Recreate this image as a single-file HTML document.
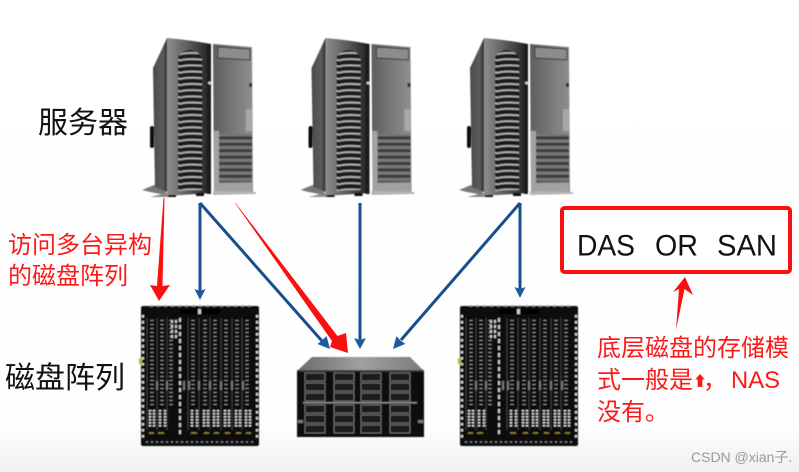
<!DOCTYPE html>
<html><head><meta charset="utf-8">
<style>
html,body{margin:0;padding:0;background:#fff}
svg{display:block}
text{font-family:"Liberation Sans","Noto Sans CJK SC",sans-serif}
</style></head>
<body>
<svg width="799" height="472" viewBox="0 0 799 472" xmlns="http://www.w3.org/2000/svg">
<defs>
<linearGradient id="bg" x1="0" y1="0" x2="0" y2="1"><stop offset="0" stop-color="#fff"/><stop offset=".9" stop-color="#fefefe"/><stop offset="1" stop-color="#f0f0f0"/></linearGradient>
<linearGradient id="side" x1="0" y1="0" x2="1" y2="0"><stop offset="0" stop-color="#4a4a4a"/><stop offset=".7" stop-color="#5c5c5c"/><stop offset="1" stop-color="#2e2e2e"/></linearGradient>
<linearGradient id="front" x1="0" y1="0" x2="1" y2="0"><stop offset="0" stop-color="#8e8e8e"/><stop offset=".5" stop-color="#5a5a5a"/><stop offset="1" stop-color="#1e1e1e"/></linearGradient>
<linearGradient id="door" x1="0" y1="0" x2="1" y2="0"><stop offset="0" stop-color="#5e5e5e"/><stop offset=".6" stop-color="#7d7d7d"/><stop offset="1" stop-color="#8f8f8f"/></linearGradient>
<linearGradient id="top" x1="0" y1="0" x2="1" y2="0"><stop offset="0" stop-color="#6a6a6a"/><stop offset=".5" stop-color="#a0a0a0"/><stop offset="1" stop-color="#7a7a7a"/></linearGradient>
<pattern id="vent" patternUnits="userSpaceOnUse" width="26" height="6.2" y="1">
<rect width="26" height="6.2" fill="#1c1c1c"/>
<path d="M0 3 Q13 1.4 26 3.6" stroke="#b5b5b5" stroke-width="1.800" fill="none"/>
</pattern>
<pattern id="grill" patternUnits="userSpaceOnUse" width="33" height="6.4" y="2">
<rect width="33" height="6.4" fill="#777"/><rect width="33" height="3" fill="#3a3a3a"/>
</pattern>
<filter id="b" x="-5%" y="-5%" width="110%" height="110%"><feGaussianBlur stdDeviation=".6"/></filter>

<g id="server" filter="url(#b)">
<path d="M142 190 L154 185 L165 187 L166 195 L150 192Z" fill="#777"/>
<path d="M153 68 L167 38 L167 192 L155 187Z" fill="url(#side)"/>
<rect x="150" y="126" width="4" height="22" rx="2" fill="#111"/>
<path d="M150 197 L170 192 L176 197Z" fill="#888"/>
<path d="M167 38 Q190 40 211 44 L211 193 L167 196Z" fill="url(#front)"/>
<path d="M178 58 Q180 51 190 50 Q199 51 202 58 L202 190 L178 191Z" fill="url(#vent)"/>
<rect x="207" y="44" width="4" height="150" fill="#1a1a1a"/>
<circle cx="209.500" cy="83" r="1.500" fill="#ccc"/>
<path d="M213 44 L252 47 L253 192 L214 193Z" fill="url(#door)"/>
<path d="M218 47 L250 49 L250 60 L218 58Z" fill="#8c8c8c" stroke="#333" stroke-width="1"/>
<rect x="246" y="109" width="6" height="22" fill="#a8a8a8"/>
<rect x="249" y="83" width="3" height="4" fill="#333"/>
<rect x="219" y="134" width="33" height="48" fill="url(#grill)"/>
<path d="M214 131 H219 V183 H252 V192 H214Z" fill="#a2a2a2"/>
<path d="M213 191 L256 192 L256 194 L213 195Z" fill="#b5b5b5"/>
<rect x="168" y="195" width="8" height="2" fill="#111"/><rect x="196" y="193" width="8" height="3" fill="#111"/>
</g>

<g id="blade" filter="url(#b)">
<rect x="141" y="306" width="118" height="140" rx="2" fill="#0c0c0c"/>
<path d="M143 315 V438 M257 315 V438" stroke="#d5d5d5" stroke-width="2" stroke-dasharray="2.500 3.500"/>
<path d="M150 306 H254" stroke="#999" stroke-width="1.500" stroke-dasharray="3 4"/>
<path d="M146 442 H254" stroke="#888" stroke-width="1.500" stroke-dasharray="2 3"/>
<rect x="180" y="309" width="40" height="5" fill="#000"/>
<rect x="198" y="309" width="3" height="5" fill="#ccc"/>
<g stroke="#8c8c8c" stroke-width="3.500" stroke-dasharray="1 3" fill="none">
<path d="M152 320 V405 M162 320 V405 M171 320 V405 M193 320 V405 M205 320 V405 M215 320 V405 M226 320 V405 M237 320 V405 M247 320 V405"/>
</g>
<g stroke="#3a3a3a" stroke-width="1.200" fill="none">
<path d="M147 318 V430 M157 318 V430 M167 318 V430 M188 318 V430 M199 318 V430 M210 318 V430 M221 318 V430 M232 318 V430 M242 318 V430"/>
</g>
<path d="M180 318 V436" stroke="#c8c8c8" stroke-width="2" stroke-dasharray="4 3"/>
<path d="M172 320 V340 M176 320 V340" stroke="#ccc" stroke-width="2" stroke-dasharray="3 2"/>
<g stroke="#77776a" stroke-width="2" fill="none">
<path d="M157 381 V390 M167 381 V390 M184 381 V390 M189 381 V390 M199 381 V390 M210 381 V390 M221 381 V390 M232 381 V390 M243 381 V390"/>
</g>
<g stroke="#ddd" stroke-width="2.500" stroke-dasharray="1.500 1.500" fill="none">
<path d="M150 410 V428 M154 410 V428 M160 410 V428 M165 410 V428 M192 410 V428 M197 410 V428 M204 410 V428 M208 410 V428 M214 410 V428 M218 410 V428 M225 410 V428 M229 410 V428 M236 410 V428 M240 410 V428 M246 410 V428 M250 410 V428"/>
</g>
<g stroke="#99892e" stroke-width="1.500" fill="none">
<path d="M149 433 H154 M158 433 H164 M191 433 H197 M204 433 H209 M214 433 H219 M225 433 H230 M236 433 H241 M246 433 H251"/>
</g>
<rect x="139" y="358" width="3" height="6" fill="#b7b73a"/>
</g>
</defs>

<rect width="799" height="472" fill="url(#bg)"/>

<use href="#server"/>
<use href="#server" x="158.500"/>
<use href="#server" x="317"/>
<use href="#blade"/>
<use href="#blade" x="319"/>

<!-- storage -->
<g filter="url(#b)">
<path d="M297 371 L312 357 L410 357 L424 371Z" fill="url(#top)"/>
<rect x="297" y="370" width="127" height="67" fill="#0a0a0a"/>
<rect x="297" y="370" width="127" height="1.500" fill="#444"/>
<g fill="#1e1e1e" stroke="#6e6e6e" stroke-width="1">
<rect x="305" y="373" width="20" height="8"/><rect x="334" y="373" width="20" height="8"/><rect x="361" y="373" width="20" height="8"/><rect x="390" y="373" width="20" height="8"/>
<rect x="305" y="383" width="20" height="8"/><rect x="334" y="383" width="20" height="8"/><rect x="361" y="383" width="20" height="8"/><rect x="390" y="383" width="20" height="8"/>
<rect x="305" y="393" width="20" height="8"/><rect x="334" y="393" width="20" height="8"/><rect x="361" y="393" width="20" height="8"/><rect x="390" y="393" width="20" height="8"/>
<rect x="305" y="405" width="20" height="8"/><rect x="334" y="405" width="20" height="8"/><rect x="361" y="405" width="20" height="8"/><rect x="390" y="405" width="20" height="8"/>
<rect x="305" y="415" width="20" height="8"/><rect x="334" y="415" width="20" height="8"/><rect x="361" y="415" width="20" height="8"/><rect x="390" y="415" width="20" height="8"/>
<rect x="305" y="425" width="20" height="8"/><rect x="334" y="425" width="20" height="8"/><rect x="361" y="425" width="20" height="8"/><rect x="390" y="425" width="20" height="8"/>
</g>
<rect x="303" y="402" width="114" height="1.500" fill="#888"/>
<rect x="298" y="420" width="5" height="3" fill="#777"/><rect x="418" y="420" width="5" height="3" fill="#777"/>
</g>

<!-- blue connectors -->
<g stroke="#174f8c" stroke-width="3" fill="none">
<path d="M200 203 V292"/>
<path d="M200 203 L322 341"/>
<path d="M360 203 V341"/>
<path d="M520 203 L401 340"/>
<path d="M520 203 V290"/>
</g>
<g fill="#1a5c9e">
<path d="M194.500 289 L200 291 L205.500 289 L200 300Z"/>
<path d="M330 349 L317.500 344 L322 340.500 L326.500 336Z"/>
<path d="M354 338 L360 340 L366 338 L360 349Z"/>
<path d="M393 349 L396.400 336.100 L400.500 340.500 L405.400 343.900Z"/>
<path d="M514.500 287 L520 289 L525.500 287 L520 298Z"/>
</g>

<!-- red arrows -->
<g fill="#fb1010">
<path d="M163.500 198 L164.500 198 L162.500 286 L170 285 L159 301 L150 285 L157 286Z"/>
<path d="M235 203 L235.500 203 L337.500 336 L346 333 L348 353 L330 347 L332 341Z"/>
<path d="M685 277 L693 295 L684.500 289 L676 330 L679 289 L673 292Z"/>
</g>

<rect x="562" y="208" width="228" height="64" rx="2.500" fill="#fff" stroke="#f81010" stroke-width="4"/>

<g fill="#111">
<text x="577" y="255.500" font-size="30" textLength="58" lengthAdjust="spacingAndGlyphs">DAS</text>
<text x="655" y="255.500" font-size="30" textLength="43" lengthAdjust="spacingAndGlyphs">OR</text>
<text x="717" y="255.500" font-size="30" textLength="60" lengthAdjust="spacingAndGlyphs">SAN</text>
<text x="38" y="133" font-size="30">服务器</text>
<text x="5" y="388" font-size="30">磁盘阵列</text>
</g>

<g fill="#fb1a1a" font-size="24">
<text x="8" y="253">访问多台异构</text>
<text x="8" y="284">的磁盘阵列</text>
<text x="597" y="356">底层磁盘的存储模</text>
<text x="597" y="388">式一般是</text>
<text x="693" y="386" font-size="14">⬆</text>
<text x="703" y="388">，</text>
<text x="731" y="388" textLength="49" lengthAdjust="spacingAndGlyphs">NAS</text>
<text x="597" y="420">没有。</text>
</g>

<text x="691" y="462" font-size="14" fill="#9a9a9a">CSDN @xian子.</text>
</svg>
</body></html>
